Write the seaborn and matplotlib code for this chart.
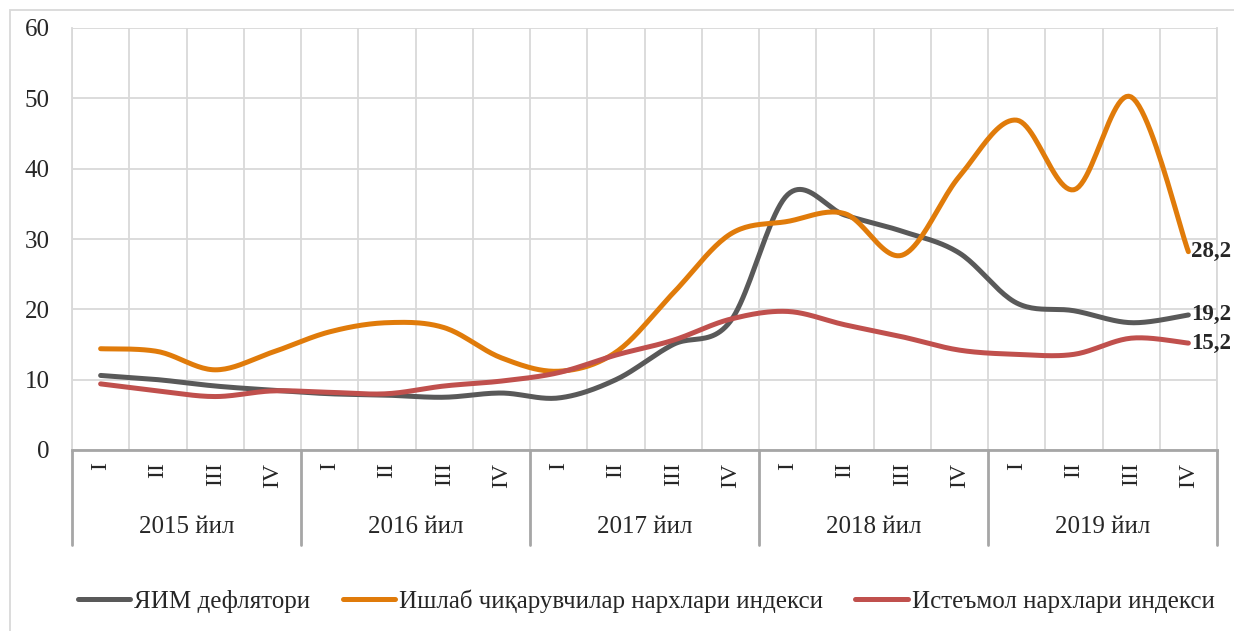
import numpy as np
import matplotlib
matplotlib.use("Agg")
import matplotlib.pyplot as plt
import matplotlib.patches as mpatches
import seaborn as sns
import pandas as pd

quarters = ["I", "II", "III", "IV"] * 5
years = ["2015 йил", "2016 йил", "2017 йил", "2018 йил", "2019 йил"]

gdp_deflator = [10.6, 10.0, 9.1, 8.5, 8.0, 7.8, 7.5, 8.1, 7.4, 10.0,
                15.0, 18.3, 36.3, 33.4, 31.1, 28.0, 20.9, 19.8, 18.1, 19.2]
ppi = [14.4, 14.0, 11.4, 13.9, 16.8, 18.1, 17.4, 13.1, 11.2, 13.9,
       22.3, 30.7, 32.5, 33.6, 27.7, 38.9, 46.9, 37.0, 50.2, 28.2]
cpi = [9.4, 8.4, 7.6, 8.4, 8.2, 8.0, 9.1, 9.8, 11.0, 13.5,
       15.6, 18.6, 19.7, 17.8, 16.1, 14.2, 13.6, 13.6, 15.9, 15.2]

series_names = ["ЯИМ дефлятори", "Ишлаб чиқарувчилар нархлари индекси", "Истеъмол нархлари индекси"]
end_labels = ["19,2", "28,2", "15,2"]
colors = ["#595959", "#E07B0A", "#C0504D"]


def smooth(xs, ys, n=24):
    # Excel-style smoothed line (Catmull-Rom Bezier through the points)
    p = np.column_stack([xs, ys]).astype(float)
    p = np.vstack([p[0], p, p[-1]])
    out = []
    t = np.linspace(0, 1, n)[:, None]
    for i in range(1, len(p) - 2):
        p0, p1, p2, p3 = p[i - 1], p[i], p[i + 1], p[i + 2]
        c1 = p1 + (p2 - p0) / 6
        c2 = p2 - (p3 - p1) / 6
        seg = (1 - t) ** 3 * p1 + 3 * (1 - t) ** 2 * t * c1 + 3 * (1 - t) * t ** 2 * c2 + t ** 3 * p2
        out.append(seg if i == 1 else seg[1:])
    return np.vstack(out)


sns.set_style("white")
plt.rcParams['font.family'] = ['Liberation Serif', 'DejaVu Serif']

fig = plt.figure(figsize=(12.34, 6.31), dpi=100)
ax = fig.add_axes([72 / 1234, 1 - 450 / 631, (1217 - 72) / 1234, (450 - 28) / 631])

x = np.arange(len(quarters))
frames = []
for name, vals in zip(series_names, [gdp_deflator, ppi, cpi]):
    c = smooth(x, vals)
    frames.append(pd.DataFrame({"x": c[:, 0], "y": c[:, 1], "series": name}))
df = pd.concat(frames, ignore_index=True)

sns.lineplot(data=df, x="x", y="y", hue="series", hue_order=series_names,
             palette=colors, sort=False, estimator=None, linewidth=3.6,
             ax=ax, legend=True, zorder=3)

# end-of-series labels (the source crops them; kept inside the frame here)
for vals, lab in zip([gdp_deflator, ppi, cpi], end_labels):
    ax.annotate(lab, (x[-1], vals[-1]), xytext=(2, 0), textcoords="offset points",
                ha="left", va="center", fontsize=16.5, fontweight="bold",
                annotation_clip=False, clip_on=False)

ax.set_xlim(-0.5, len(quarters) - 0.5)
ax.set_ylim(0, 60)
ax.set_yticks(range(0, 61, 10))
ax.set_xticks(x)
ax.set_xticklabels(quarters, rotation=90, fontsize=17, va="top")
ax.set_xticks(np.arange(-0.5, len(quarters), 1), minor=True)
ax.tick_params(axis="x", which="both", length=0, pad=9)
ax.tick_params(axis="y", length=0, pad=16, labelsize=18)
ax.set_xlabel("")
ax.set_ylabel("")

ax.grid(False)
ax.yaxis.grid(True, color="#d9d9d9", linewidth=1.3)
ax.xaxis.grid(True, which="minor", color="#d9d9d9", linewidth=1.3)
ax.spines["top"].set_visible(False)
ax.spines["left"].set_color("#d9d9d9")
ax.spines["right"].set_color("#d9d9d9")
ax.spines["left"].set_linewidth(1.3)
ax.spines["right"].set_linewidth(1.3)
ax.spines["bottom"].set_color("#a6a6a6")
ax.spines["bottom"].set_linewidth(2)

# year level of the category axis
trans = ax.get_xaxis_transform()
sep_bottom = -(545 - 450) / (450 - 28)
year_y = -(527 - 450) / (450 - 28)
for k in range(len(years) + 1):
    ax.plot([k * 4 - 0.5, k * 4 - 0.5], [0, sep_bottom], transform=trans,
            color="#a6a6a6", linewidth=2, clip_on=False)
for k, yr in enumerate(years):
    ax.text(k * 4 + 1.5, year_y, yr, transform=trans, ha="center", va="center",
            fontsize=18)

handles, labels = ax.get_legend_handles_labels()
ax.legend(handles, labels, loc="center", bbox_to_anchor=(646 / 1234, 1 - 601 / 631),
          bbox_transform=fig.transFigure, ncol=3, frameon=False, fontsize=18,
          handlelength=2.1, handletextpad=0.15, columnspacing=1.3)

fig.patches.append(mpatches.Rectangle((10 / 1234, -0.1), 1.5, 0.1 + 1 - 10 / 631,
                                      transform=fig.transFigure, fill=False,
                                      edgecolor="#d9d9d9", linewidth=1.3))

fig.savefig("out.png", dpi=100)
